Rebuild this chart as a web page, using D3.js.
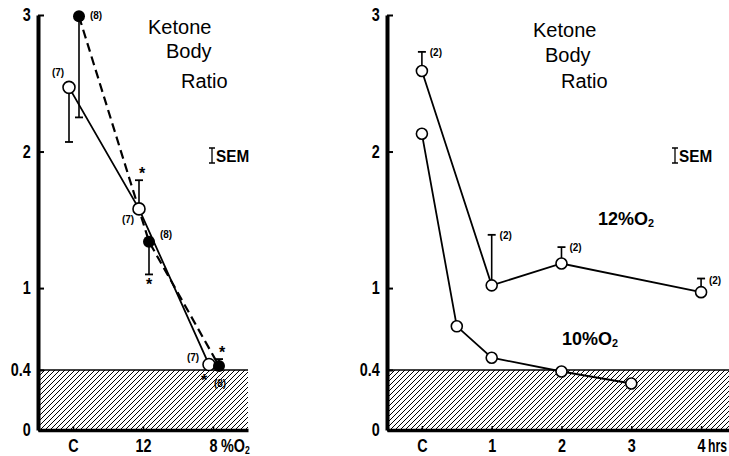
<!DOCTYPE html>
<html>
<head>
<meta charset="utf-8">
<script src="https://cdn.jsdelivr.net/npm/d3@7"></script>
<style>
  html, body { margin: 0; padding: 0; background: #fff; }
  svg { display: block; }
  .tick text, .lab { font-family: "Liberation Sans", Arial, sans-serif; font-weight: bold; }
  .title { font-family: "Liberation Sans", Arial, sans-serif; font-size: 20px; }
</style>
</head>
<body>
<script>
// ---------- data ----------
// Left panel: ketone body ratio vs inspired O2 (C = control, 12 %, 8 %)
const leftCategories = ["C", "12", "8"];
const leftOpen = [2.47, 1.58, 0.44];          // open circles, solid line
const leftOpenErr = [2.07, 1.79, null];        // SEM bar end
const leftOpenN = ["(7)", "(7)", "(7)"];
const leftFilled = [2.99, 1.34, 0.43];        // filled circles, dashed line
const leftFilledErr = [2.25, 1.10, 0.48];
const leftFilledN = ["(8)", "(8)", "(8)"];

// Right panel: ketone body ratio vs time (hrs)
const hourTickValues = [0, 1, 2, 3, 4];
const hourTickLabels = ["C", "1", "2", "3", "4"];
const hours12 = [0, 1, 2, 4];
const ratio12 = [2.59, 1.02, 1.18, 0.97];
const err12 = [2.73, 1.39, 1.30, 1.07];
const n12 = ["(2)", "(2)", "(2)", "(2)"];
const hours10 = [0, 0.5, 1, 2, 3];
const ratio10 = [2.13, 0.72, 0.49, 0.39, 0.31];

const yTickValues = [0, 0.4, 1, 2, 3];
const normalLimit = 0.4;

// ---------- drawing ----------
const W = 729, H = 456;
const SX = 0.8; // horizontal condensing of the axis lettering
const svg = d3.select("body").append("svg").attr("width", W).attr("height", H);

const defs = svg.append("defs");
const pat = defs.append("pattern").attr("id", "hatch")
  .attr("patternUnits", "userSpaceOnUse").attr("width", 5).attr("height", 5);
pat.append("path").attr("d", "M0,5 L5,0 M-1,1 L1,-1 M4,6 L6,4")
  .attr("stroke", "#000").attr("stroke-width", 1);

const yScale = d3.scaleLinear().domain([0, 0.4, 3]).range([430, 370, 15]);

function drawFrame(g, x, xTicks, xFmt) {
  const [x0, x1] = x.range();
  g.append("rect").attr("x", x0).attr("y", yScale(normalLimit))
    .attr("width", x1 - x0).attr("height", yScale(0) - yScale(normalLimit))
    .attr("fill", "url(#hatch)");
  g.append("line").attr("x1", x0).attr("x2", x1)
    .attr("y1", yScale(normalLimit)).attr("y2", yScale(normalLimit))
    .attr("stroke", "#000").attr("stroke-width", 1.6);

  const ya = g.append("g").attr("transform", `translate(${x0},0)`)
    .call(d3.axisLeft(yScale).tickValues(yTickValues)
      .tickFormat(d => d === 0.4 ? "0.4" : d3.format("d")(d))
      .tickSizeInner(-6).tickSizeOuter(0).tickPadding(9));
  ya.select(".domain").attr("stroke-width", 4);
  ya.selectAll(".tick line").attr("stroke-width", 2);
  ya.selectAll(".tick text").attr("font-size", 18).attr("fill", "#000")
    .attr("transform", `scale(${SX},1)`);

  const xa = g.append("g").attr("transform", `translate(0,${yScale(0)})`)
    .call(d3.axisBottom(x).tickValues(xTicks).tickFormat(xFmt)
      .tickSizeInner(-4).tickSizeOuter(0).tickPadding(9));
  xa.select(".domain").attr("stroke-width", 3.5);
  xa.selectAll(".tick line").attr("stroke-width", 1.5);
  xa.selectAll(".tick text").attr("font-size", 18).attr("fill", "#000")
    .attr("transform", `scale(${SX},1)`);
  return xa;
}

function label(g, x, y, txt, size, anchor, sx) {
  return g.append("text").attr("class", "lab")
    .attr("transform", `translate(${x},${y}) scale(${sx || 1},1)`)
    .attr("font-size", size).attr("text-anchor", anchor || "middle").text(txt);
}
function o2Label(g, x, y, prefix, size, sx) {
  const t = g.append("text").attr("class", "lab")
    .attr("transform", `translate(${x},${y}) scale(${sx || 1},1)`)
    .attr("font-size", size);
  t.append("tspan").text(prefix + "O");
  t.append("tspan").attr("font-size", size * 0.6).attr("dy", 2).text("2");
  return t;
}
function errBar(g, cx, v, e, capW) {
  g.append("line").attr("x1", cx).attr("x2", cx).attr("y1", yScale(v)).attr("y2", yScale(e))
    .attr("stroke", "#000").attr("stroke-width", 1.6);
  g.append("line").attr("x1", cx - capW / 2).attr("x2", cx + capW / 2)
    .attr("y1", yScale(e)).attr("y2", yScale(e))
    .attr("stroke", "#000").attr("stroke-width", 1.8);
}
function title(g, xs, ys) {
  ["Ketone", "Body", "Ratio"].forEach((w, i) =>
    g.append("text").attr("class", "title").attr("x", xs[i]).attr("y", ys[i]).text(w));
}
function sem(g, x, y) {
  g.append("path").attr("d", `M${x - 3},${y - 14}h6M${x},${y - 14}v15M${x - 3},${y + 1}h6`)
    .attr("stroke", "#000").attr("stroke-width", 1.3).attr("fill", "none");
  label(g, x + 4, y, "SEM", 17, "start", 0.9);
}

// ---------- left panel ----------
const gL = svg.append("g");
const xL = d3.scaleLinear().domain([-0.5, 2.5]).range([38, 248]);
const openDx = -4, filledDx = 6;
drawFrame(gL, xL, [0, 1, 2], i => leftCategories[i]);
o2Label(gL, xL(2) + 8, yScale(0) + 22, "%", 18, SX);

title(gL, [148, 166, 181], [34, 58, 88]);
sem(gL, 212, 162);

const lineGen = d3.line().x(d => d[0]).y(d => yScale(d[1]));
const openPts = leftOpen.map((v, i) => [xL(i) + openDx, v]);
const filledPts = leftFilled.map((v, i) => [xL(i) + filledDx, v]);

leftOpenErr.forEach((e, i) => { if (e != null) errBar(gL, openPts[i][0], leftOpen[i], e, 8); });
leftFilledErr.forEach((e, i) => { if (e != null) errBar(gL, filledPts[i][0], leftFilled[i], e, 8); });

gL.append("path").attr("d", lineGen(filledPts)).attr("fill", "none")
  .attr("stroke", "#000").attr("stroke-width", 2.2).attr("stroke-dasharray", "9,5");
gL.append("path").attr("d", lineGen(openPts)).attr("fill", "none")
  .attr("stroke", "#000").attr("stroke-width", 1.8);

gL.selectAll(".open").data(openPts).join("circle").attr("class", "open")
  .attr("cx", d => d[0]).attr("cy", d => yScale(d[1])).attr("r", 6)
  .attr("fill", "#fff").attr("stroke", "#000").attr("stroke-width", 1.6);
gL.selectAll(".filled").data(filledPts).join("circle").attr("class", "filled")
  .attr("cx", d => d[0]).attr("cy", d => yScale(d[1])).attr("r", 6)
  .attr("fill", "#000");

label(gL, openPts[0][0] - 11, yScale(leftOpen[0]) - 11, leftOpenN[0], 10);
label(gL, filledPts[0][0] + 17, yScale(leftFilled[0]) + 3, leftFilledN[0], 10);
label(gL, openPts[1][0] - 11, yScale(leftOpen[1]) + 14, leftOpenN[1], 10);
label(gL, filledPts[1][0] + 17, yScale(leftFilled[1]) - 4, leftFilledN[1], 10);
label(gL, openPts[2][0] - 16, yScale(leftOpen[2]) - 4, leftOpenN[2], 10);
label(gL, filledPts[2][0] + 1, yScale(leftFilled[2]) + 21, leftFilledN[2], 10);
label(gL, openPts[1][0] + 3, yScale(leftOpenErr[1]) - 1, "*", 16);
label(gL, filledPts[1][0], yScale(leftFilledErr[1]) + 16, "*", 16);
label(gL, filledPts[2][0] + 3, yScale(leftFilledErr[2]) - 1, "*", 16);
label(gL, openPts[2][0] - 5, yScale(leftOpen[2]) + 21, "*", 16);

// ---------- right panel ----------
const gR = svg.append("g");
const xR = d3.scaleLinear().domain([-0.5, 4.4]).range([387, 729]);
drawFrame(gR, xR, hourTickValues, (d, i) => hourTickLabels[i]);
label(gR, xR(4) + 7, yScale(0) + 22, "hrs", 18, "start", 0.68);

title(gR, [533, 545, 561], [37, 62, 88]);
sem(gR, 675, 162);
o2Label(gR, 598, 225, "12%", 18);
o2Label(gR, 562, 345, "10%", 18);

const pts12 = hours12.map((h, i) => [xR(h), ratio12[i]]);
const pts10 = hours10.map((h, i) => [xR(h), ratio10[i]]);

err12.forEach((e, i) => errBar(gR, pts12[i][0], ratio12[i], e, 8));
gR.append("path").attr("d", lineGen(pts12)).attr("fill", "none")
  .attr("stroke", "#000").attr("stroke-width", 1.8);
gR.append("path").attr("d", lineGen(pts10)).attr("fill", "none")
  .attr("stroke", "#000").attr("stroke-width", 1.8);
gR.selectAll(".o12").data(pts12.concat(pts10)).join("circle").attr("class", "o12")
  .attr("cx", d => d[0]).attr("cy", d => yScale(d[1])).attr("r", 5.5)
  .attr("fill", "#fff").attr("stroke", "#000").attr("stroke-width", 1.6);

n12.forEach((n, i) => {
  const dy = i === 3 ? 5 : 4;
  label(gR, pts12[i][0] + 14, yScale(err12[i]) + dy, n, 10);
});
</script>
</body>
</html>
